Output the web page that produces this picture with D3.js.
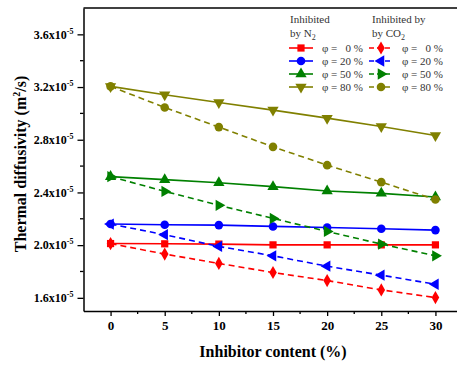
<!DOCTYPE html>
<html><head><meta charset="utf-8">
<script src="https://cdn.jsdelivr.net/npm/d3@7/dist/d3.min.js"></script>
<style>body{margin:0;background:#fff}svg{display:block}</style>
</head><body>
<svg id="c" width="457" height="367"></svg>
<script>
const xValues = [0, 5, 10, 15, 20, 25, 30];
const n2_0  = [2.012, 2.010, 2.008, 2.002, 2.002, 2.002, 2.002];
const n2_20 = [2.160, 2.155, 2.152, 2.142, 2.134, 2.124, 2.114];
const n2_50 = [2.520, 2.497, 2.474, 2.444, 2.411, 2.393, 2.365];
const n2_80 = [3.205, 3.142, 3.083, 3.025, 2.964, 2.901, 2.832];
const co2_0  = [2.012, 1.932, 1.861, 1.792, 1.731, 1.660, 1.602];
const co2_20 = [2.160, 2.079, 1.990, 1.919, 1.840, 1.772, 1.703];
const co2_50 = [2.520, 2.408, 2.302, 2.203, 2.104, 2.008, 1.919];
const co2_80 = [3.205, 3.045, 2.896, 2.746, 2.607, 2.478, 2.346];
const phiLabels = ["\u03C6 =   0 %", "\u03C6 = 20 %", "\u03C6 = 50 %", "\u03C6 = 80 %"];
const yTicks = [1.6, 2.0, 2.4, 2.8, 3.2, 3.6];
const xTicks = [0, 5, 10, 15, 20, 25, 30];

const colors = ["#FF0000", "#0000FF", "#008000", "#808000"];
const series = [
  {vals: n2_0,  color: colors[0], dash: null, sym: "square"},
  {vals: n2_20, color: colors[1], dash: null, sym: "circle"},
  {vals: n2_50, color: colors[2], dash: null, sym: "up"},
  {vals: n2_80, color: colors[3], dash: null, sym: "down"},
  {vals: co2_0,  color: colors[0], dash: "6,4", sym: "diamond"},
  {vals: co2_20, color: colors[1], dash: "6,4", sym: "left"},
  {vals: co2_50, color: colors[2], dash: "6,4", sym: "right"},
  {vals: co2_80, color: colors[3], dash: "6,4", sym: "circle"}
];

const svg = d3.select("#c");
const x = d3.scaleLinear().domain([-2.5, 32.5]).range([83.5, 462.5]);
const y = d3.scaleLinear().domain([1.5, 3.8]).range([311, 8]);
const serif = "Liberation Serif, Times New Roman, serif";

function symPath(s) {
  if (s === "square") return d3.symbol(d3.symbolSquare, 52)();
  if (s === "circle") return d3.symbol(d3.symbolCircle, 58)();
  if (s === "diamond") return d3.symbol(d3.symbolDiamond, 50)();
  return d3.symbol(d3.symbolTriangle, 55)();
}
function symRot(s) {
  return {up: 0, down: 180, left: -90, right: 90}[s] || 0;
}

// frame top
svg.append("line").attr("x1", x.range()[0]).attr("x2", x.range()[1]).attr("y1", 8).attr("y2", 8)
  .attr("stroke", "#000").attr("stroke-width", 1.5);

// axes
const xAxis = d3.axisBottom(x).tickValues(xTicks).tickSize(5).tickSizeOuter(0).tickPadding(5);
const gx = svg.append("g").attr("transform", "translate(0,311)").call(xAxis);
gx.select(".domain").attr("stroke-width", 1.5);
gx.selectAll(".tick line").attr("stroke-width", 1.3);
gx.selectAll(".tick text").style("font-family", serif).style("font-weight", "bold").style("font-size", "13px").attr("fill", "#000");
const xMinor = d3.range(-2.5, 33, 5).filter(v => v > -2.5);
svg.append("g").selectAll("line").data(xMinor).join("line")
  .attr("x1", d => x(d)).attr("x2", d => x(d)).attr("y1", 311).attr("y2", 314)
  .attr("stroke", "#000").attr("stroke-width", 1.3);

const yAxis = d3.axisLeft(y).tickValues(yTicks).tickSize(6).tickSizeOuter(0).tickPadding(4).tickFormat(() => "");
const gy = svg.append("g").attr("transform", "translate(83.5,0)").call(yAxis);
gy.select(".domain").attr("stroke-width", 1.5);
gy.selectAll(".tick line").attr("stroke-width", 1.3);
gy.selectAll(".tick text").each(function(d) {
  const t = d3.select(this).style("font-family", serif).style("font-weight", "bold").style("font-size", "12px").attr("fill", "#000");
  t.append("tspan").text(d.toFixed(1) + "x10");
  t.append("tspan").attr("dy", -5).style("font-size", "8px").text("-5");
});
const yMinor = [1.8, 2.2, 2.6, 3.0, 3.4];
svg.append("g").selectAll("line").data(yMinor).join("line")
  .attr("x1", 80).attr("x2", 83.5).attr("y1", d => y(d)).attr("y2", d => y(d))
  .attr("stroke", "#000").attr("stroke-width", 1.3);

// axis titles
svg.append("text").attr("x", 273).attr("y", 357).attr("text-anchor", "middle")
  .style("font-family", serif).style("font-weight", "bold").style("font-size", "16px").text("Inhibitor content (%)");
const yt = svg.append("text").attr("transform", "translate(26,164) rotate(-90)").attr("text-anchor", "middle")
  .style("font-family", serif).style("font-weight", "bold").style("font-size", "16px");
yt.append("tspan").text("Thermal diffusivity (m");
yt.append("tspan").attr("dy", -6).style("font-size", "10px").text("2");
yt.append("tspan").attr("dy", 6).text("/s)");

// series
const line = d3.line().x((d, i) => x(xValues[i])).y(d => y(d));
series.forEach(s => {
  svg.append("path").datum(s.vals).attr("d", line).attr("fill", "none")
    .attr("stroke", s.color).attr("stroke-width", 1.6).attr("stroke-dasharray", s.dash);
  svg.append("g").selectAll("path").data(s.vals).join("path")
    .attr("d", symPath(s.sym))
    .attr("transform", (d, i) => `translate(${x(xValues[i])},${y(d)}) rotate(${symRot(s.sym)})`)
    .attr("fill", s.color);
});

// legend
const lg = svg.append("g").style("font-family", serif).style("font-size", "11px").attr("fill", "#333");
lg.append("text").attr("x", 290).attr("y", 23).text("Inhibited");
const t2 = lg.append("text").attr("x", 290).attr("y", 37);
t2.append("tspan").text("by N");
t2.append("tspan").attr("dy", 3).style("font-size", "8px").text("2");
lg.append("text").attr("x", 372).attr("y", 23).text("Inhibited by");
const t4 = lg.append("text").attr("x", 372).attr("y", 37);
t4.append("tspan").text("by CO");
t4.append("tspan").attr("dy", 3).style("font-size", "8px").text("2");
const rowY = [48, 61, 74, 87];
series.forEach((s, k) => {
  const col = k < 4 ? 0 : 1;
  const r = k % 4;
  const x0 = col === 0 ? 289 : 369;
  lg.append("line").attr("x1", x0).attr("x2", x0 + 24).attr("y1", rowY[r]).attr("y2", rowY[r])
    .attr("stroke", s.color).attr("stroke-width", 1.6).attr("stroke-dasharray", s.dash ? "5,3" : null);
  lg.append("path").attr("d", symPath(s.sym))
    .attr("transform", `translate(${x0 + 12},${rowY[r]}) rotate(${symRot(s.sym)})`).attr("fill", s.color);
  lg.append("text").attr("x", x0 + 33).attr("y", rowY[r] + 4)
    .style("white-space", "pre").text(phiLabels[r]);
});
</script>
</body></html>
